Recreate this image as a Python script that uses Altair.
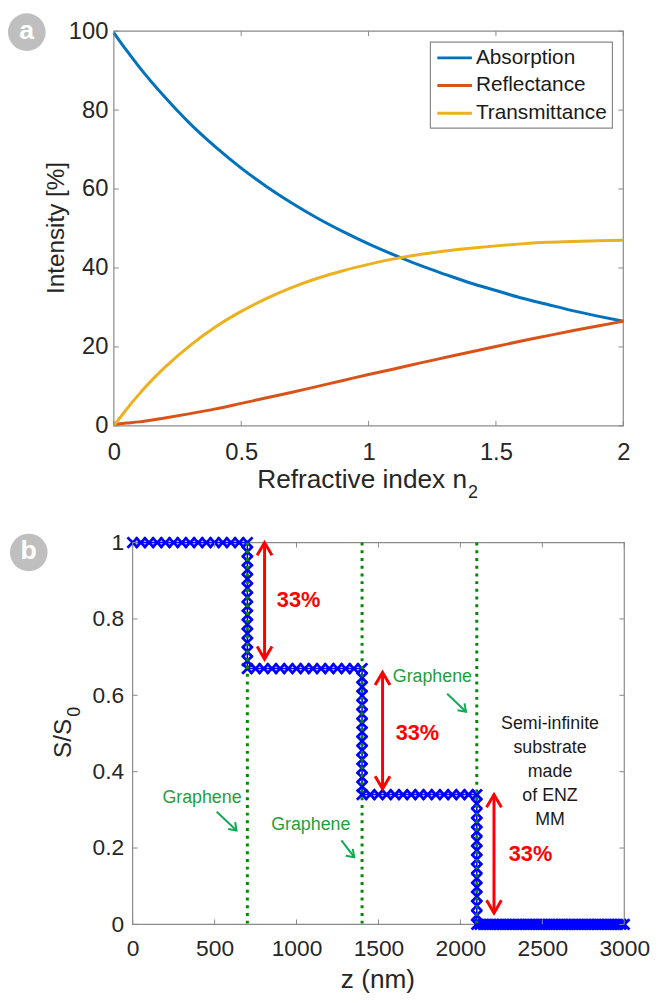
import altair as alt
import pandas as pd

FONT = "Liberation Sans"
FRAME = "#8a8a8a"
LABEL = "#262626"

# ---------------- panel a data ----------------
n2 = [0, 0.05, 0.1, 0.2, 0.3, 0.4, 0.5, 0.6, 0.7, 0.8, 0.9, 1.0,
      1.1, 1.2, 1.3, 1.4, 1.5, 1.6, 1.7, 1.8, 1.9, 2.0]
absorption = [99.6, 95.1, 90.9, 83.3, 76.5, 70.6, 65.3, 60.6, 56.4, 52.6, 49.2,
              46.1, 43.3, 40.7, 38.4, 36.2, 34.3, 32.4, 30.8, 29.2, 27.8, 26.5]
reflectance = [0.4, 0.7, 1.0, 2.0, 3.1, 4.3, 5.7, 7.1, 8.5, 10.0, 11.5,
               13.0, 14.4, 15.9, 17.3, 18.7, 20.1, 21.5, 22.8, 24.1, 25.3, 26.5]
transmittance = [0.0, 4.2, 8.1, 14.8, 20.4, 25.1, 29.0, 32.3, 35.1, 37.4, 39.3,
                 40.9, 42.3, 43.4, 44.3, 45.0, 45.6, 46.1, 46.5, 46.7, 46.9, 47.0]
series_names = ["Absorption", "Reflectance", "Transmittance"]
series_colors = ["#0072BD", "#D95319", "#EDB120"]
a_xticks = [0, 0.5, 1, 1.5, 2]
a_yticks = [0, 20, 40, 60, 80, 100]

# ---------------- panel b data ----------------
levels = [1.0, 0.67, 0.34, 0.0]
flat1_z = [0, 50, 100, 150, 200, 250, 300, 350, 400, 450, 500, 550, 600, 650, 700]
flat2_z = [700, 750, 800, 850, 900, 950, 1000, 1050, 1100, 1150, 1200, 1250, 1300, 1350, 1400]
flat3_z = [1400, 1450, 1500, 1550, 1600, 1650, 1700, 1750, 1800, 1850, 1900, 1950, 2000, 2050, 2100]
flat4_z = [2100, 2120, 2140, 2160, 2180, 2200, 2220, 2240, 2260, 2280, 2300, 2320,
           2340, 2360, 2380, 2400, 2420, 2440, 2460, 2480, 2500, 2520, 2540, 2560,
           2580, 2600, 2620, 2640, 2660, 2680, 2700, 2720, 2740, 2760, 2780, 2800,
           2820, 2840, 2860, 2880, 2900, 2920, 2940, 2960, 2980, 3000]
drop_z = [700, 1400, 2100]
drop1_s = [0.976, 0.952, 0.929, 0.905, 0.881, 0.857, 0.833, 0.810, 0.786, 0.762, 0.738, 0.714, 0.690]
drop2_s = [0.646, 0.622, 0.599, 0.575, 0.551, 0.527, 0.504, 0.480, 0.456, 0.432, 0.409, 0.385, 0.361]
drop3_s = [0.316, 0.291, 0.267, 0.243, 0.218, 0.194, 0.170, 0.146, 0.121, 0.097, 0.073, 0.049, 0.024]
graphene_z = [700, 1400, 2100]
b_xticks = [0, 500, 1000, 1500, 2000, 2500, 3000]
b_yticks = [0, 0.2, 0.4, 0.6, 0.8, 1]

arrow_z = [805, 1525, 2205]
arrow_top = [1.0, 0.66, 0.34]
arrow_bottom = [0.695, 0.355, 0.03]
pct_z = [880, 1605, 2295]
pct_s = [0.85, 0.50, 0.185]
pct_text = ["33%", "33%", "33%"]

g_text_z = [423, 1087, 1829]
g_text_s = [0.332, 0.259, 0.648]
g_from_z = [513, 1274, 1919]
g_from_s = [0.295, 0.220, 0.604]
g_to_z = [634, 1352, 2034]
g_to_s = [0.246, 0.176, 0.557]
g_text = ["Graphene", "Graphene", "Graphene"]

substrate_text = "Semi-infinite\nsubstrate\nmade\nof ENZ\nMM"
substrate_z = [2547]
substrate_s = [0.526]

# ---------------- build tables ----------------
df_a = pd.concat([
    pd.DataFrame({"n": n2, "v": absorption, "series": series_names[0]}),
    pd.DataFrame({"n": n2, "v": reflectance, "series": series_names[1]}),
    pd.DataFrame({"n": n2, "v": transmittance, "series": series_names[2]}),
], ignore_index=True)

rows = []
flats = [flat1_z, flat2_z, flat3_z, flat4_z]
drops = [drop1_s, drop2_s, drop3_s]
for k in range(4):
    for z in flats[k]:
        rows.append({"z": z, "s": levels[k], "i": len(rows)})
    if k < 3:
        for s in drops[k]:
            rows.append({"z": drop_z[k], "s": s, "i": len(rows)})
df_b = pd.DataFrame(rows)

one = pd.DataFrame({"k": [0]})

W_A, H_A = 515, 399
SHIFT_B = 19               # panel b plot starts 19 px to the right of panel a
W_B, H_B = SHIFT_B + 497, 386


def frame(x0, W, H):
    return alt.Chart(one).mark_rect(fill="white", fillOpacity=0, stroke=FRAME,
                                    strokeWidth=1.2).encode(
        x=alt.value(x0), x2=alt.value(W), y=alt.value(0), y2=alt.value(H))


def inward_ticks(xt, yt, x0, W, H):
    dx = pd.DataFrame({"t": xt})
    dy = pd.DataFrame({"t": yt})
    base_x = alt.Chart(dx).mark_rule(color=FRAME, strokeWidth=1)
    base_y = alt.Chart(dy).mark_rule(color=FRAME, strokeWidth=1)
    return [
        base_x.encode(x=alt.X("t:Q", title=None), y=alt.value(H - 5), y2=alt.value(H)),
        base_x.encode(x=alt.X("t:Q", title=None), y=alt.value(0), y2=alt.value(5)),
        base_y.encode(y=alt.Y("t:Q", title=None), x=alt.value(x0), x2=alt.value(x0 + 5)),
        base_y.encode(y=alt.Y("t:Q", title=None), x=alt.value(W - 5), x2=alt.value(W)),
    ]


def text_at(txt, x, y, size, **kw):
    return alt.Chart(one).mark_text(text=txt, fontSize=size, font=FONT,
                                    align=kw.pop("align", "center"),
                                    baseline=kw.pop("baseline", "middle"),
                                    **kw).encode(x=alt.value(x), y=alt.value(y))


def letter(ch, x, y):
    circ = alt.Chart(one).mark_point(shape="circle", filled=True, fill="#bfbfbf",
                                     size=1444, opacity=1, strokeWidth=0).encode(
        x=alt.value(x), y=alt.value(y))
    t = text_at(ch, x, y - 1, 27, color="white", fontWeight="bold")
    return [circ, t]


# ---------------- panel a ----------------
xa = alt.X("n:Q", scale=alt.Scale(domain=[0, 2], nice=False, zero=False),
           axis=alt.Axis(values=a_xticks, title=None, labelFontSize=24, labelFlush=False,
                         labelPadding=15, format="~g", labelOverlap=False))
ya = alt.Y("v:Q", scale=alt.Scale(domain=[0, 100], nice=False),
           axis=alt.Axis(values=a_yticks, title=None, labelFontSize=24, labelFlush=False,
                         labelPadding=6, labelOverlap=False))
lines_a = alt.Chart(df_a).mark_line(strokeWidth=3, interpolate="monotone").encode(
    x=xa, y=ya,
    color=alt.Color("series:N", scale=alt.Scale(domain=series_names, range=series_colors),
                    legend=None))

legend_layers = [alt.Chart(one).mark_rect(fill="white", stroke=FRAME, strokeWidth=1.2).encode(
    x=alt.value(320), x2=alt.value(504), y=alt.value(11), y2=alt.value(98))]
for i, (nm, col) in enumerate(zip(series_names, series_colors)):
    yy = 27 + 28 * i
    legend_layers.append(alt.Chart(one).mark_rule(color=col, strokeWidth=3).encode(
        x=alt.value(327), x2=alt.value(362), y=alt.value(yy)))
    legend_layers.append(text_at(nm, 366, yy, 21, align="left", color="#1a1a1a"))

titles_a = [
    text_at("Intensity [%]", -57, 199, 24.5, angle=270, color=LABEL),
    text_at("Refractive index n", 357, 454, 26.5, align="right", color=LABEL),
    text_at("2", 358, 467, 18, align="left", color=LABEL),
]

panel_a = alt.layer(
    frame(0, W_A, H_A), lines_a, *inward_ticks(a_xticks, a_yticks, 0, W_A, H_A),
    *legend_layers, *titles_a, *letter("a", -88, 1)
).properties(width=W_A, height=H_A)

# ---------------- panel b ----------------
xb = alt.X("z:Q", scale=alt.Scale(domain=[0, 3000], range=[SHIFT_B, W_B], nice=False, zero=False),
           axis=alt.Axis(values=b_xticks, title=None, labelFontSize=23, labelFlush=False,
                         labelPadding=13, format="d", labelOverlap=False))
yb = alt.Y("s:Q", scale=alt.Scale(domain=[0, 1], nice=False),
           axis=alt.Axis(values=b_yticks, title=None, labelFontSize=23, offset=-SHIFT_B,
                         labelFlush=False, labelPadding=9, format="~g", labelOverlap=False))

X_PATH = "M-1,-1L1,1M-1,1L1,-1"
UP_HEAD = "M-1,1.7L0,0L1,1.7"
DOWN_HEAD = "M-1,-1.7L0,0L1,-1.7"
G_HEAD = "M-1,1.4L0,0L1,1.4"

blue_line = alt.Chart(df_b).mark_line(color="#0000ff", strokeWidth=1.5).encode(
    x=xb, y=yb, order="i:Q")
blue_pts = alt.Chart(df_b).mark_point(shape=X_PATH, size=110, filled=False,
                                      stroke="#0000ff", strokeWidth=2.8, opacity=1).encode(
    x=alt.X("z:Q", title=None), y=alt.Y("s:Q", title=None))

df_g = pd.DataFrame({"z": graphene_z})
green_lines = alt.Chart(df_g).mark_rule(color="#008a00", strokeWidth=3,
                                        strokeDash=[3, 4.8]).encode(
    x=alt.X("z:Q", title=None), y=alt.value(0), y2=alt.value(H_B))

df_arr = pd.DataFrame({"z": arrow_z, "top": arrow_top, "bot": arrow_bottom})
red_shaft = alt.Chart(df_arr).mark_rule(color="#ff0000", strokeWidth=3).encode(
    x=alt.X("z:Q", title=None), y=alt.Y("top:Q", title=None), y2="bot:Q")
red_up = alt.Chart(df_arr).mark_point(shape=UP_HEAD, size=225, filled=False,
                                      stroke="#ff0000", strokeWidth=3, opacity=1).encode(
    x=alt.X("z:Q", title=None), y=alt.Y("top:Q", title=None))
red_down = alt.Chart(df_arr).mark_point(shape=DOWN_HEAD, size=225, filled=False,
                                        stroke="#ff0000", strokeWidth=3, opacity=1).encode(
    x=alt.X("z:Q", title=None), y=alt.Y("bot:Q", title=None))
df_pct = pd.DataFrame({"z": pct_z, "s": pct_s, "t": pct_text})
red_text = alt.Chart(df_pct).mark_text(color="#ff0000", fontSize=22, fontWeight="bold",
                                       font=FONT, align="left", baseline="middle").encode(
    x=alt.X("z:Q", title=None), y=alt.Y("s:Q", title=None), text="t:N")

df_gt = pd.DataFrame({"z": g_text_z, "s": g_text_s, "t": g_text})
green_text = alt.Chart(df_gt).mark_text(color="#1ea03c", fontSize=18, font=FONT,
                                        align="center", baseline="middle").encode(
    x=alt.X("z:Q", title=None), y=alt.Y("s:Q", title=None), text="t:N")
df_ga = pd.DataFrame({"z1": g_from_z, "s1": g_from_s, "z2": g_to_z, "s2": g_to_s})
green_shaft = alt.Chart(df_ga).mark_rule(color="#10aa55", strokeWidth=2).encode(
    x=alt.X("z1:Q", title=None), x2="z2:Q", y=alt.Y("s1:Q", title=None), y2="s2:Q")
green_head = alt.Chart(df_ga).mark_point(shape=G_HEAD, size=100, filled=False, angle=135,
                                         stroke="#10aa55", strokeWidth=2, opacity=1).encode(
    x=alt.X("z2:Q", title=None), y=alt.Y("s2:Q", title=None))

df_sub = pd.DataFrame({"z": substrate_z, "s": substrate_s, "t": [substrate_text]})
sub_text = alt.Chart(df_sub).mark_text(color="#1a1a1a", fontSize=18, font=FONT,
                                       align="center", baseline="middle",
                                       lineBreak="\n", lineHeight=24.3).encode(
    x=alt.X("z:Q", title=None), y=alt.Y("s:Q", title=None), text="t:N")

titles_b = [
    text_at("S/S", -50, 198, 24.5, angle=270, color=LABEL),
    text_at("0", -39, 171, 18, angle=270, color=LABEL),
    text_at("z (nm)", 267, 442, 26.5, color=LABEL),
]

panel_b = alt.layer(
    frame(SHIFT_B, W_B, H_B),
    blue_line, blue_pts, green_lines, red_shaft, red_up, red_down, red_text,
    green_text, green_shaft, green_head, sub_text,
    *inward_ticks(b_xticks, b_yticks, SHIFT_B, W_B, H_B), *titles_b,
    *letter("b", -86, 10)
).properties(width=W_B, height=H_B)

chart = alt.vconcat(panel_a, panel_b, spacing=30).properties(
    padding=0
).configure_view(strokeWidth=0).configure_axis(
    domain=False, grid=False, ticks=False, labelFont=FONT, labelColor=LABEL
)

chart.save("out.html", embed_options={"renderer": "svg", "actions": False})
